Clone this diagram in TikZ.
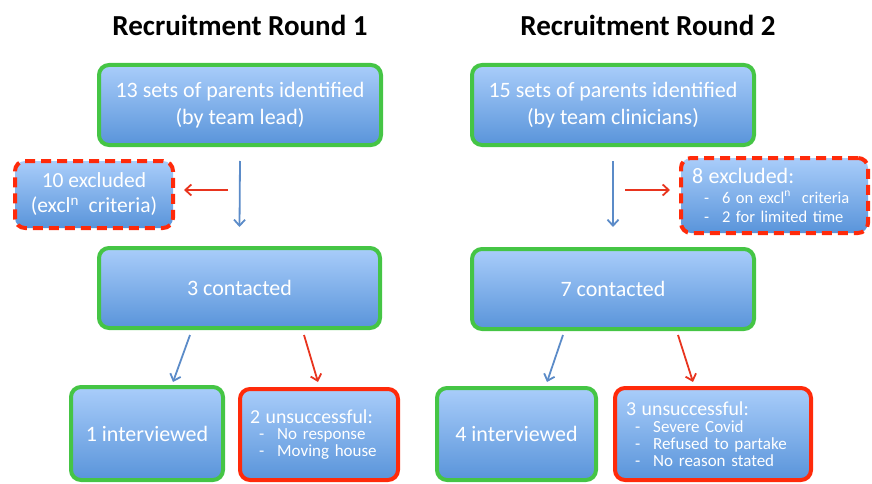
\documentclass[tikz,border=0pt]{standalone}
\usepackage{fontspec}
\setmainfont{Carlito}
\usetikzlibrary{arrows.meta}
\definecolor{gbord}{HTML}{45C545}
\definecolor{rbord}{HTML}{FF2A0A}
\definecolor{ctop}{HTML}{A9CDFA}
\definecolor{cbot}{HTML}{5994DA}
\definecolor{barrowc}{HTML}{5B8BC8}
\definecolor{rarrowc}{HTML}{E8341E}
\tikzset{
  box/.style={rounded corners=10pt, top color=ctop, bottom color=cbot, text=white,
    line width=4pt, align=center, inner sep=0pt},
  okbox/.style={box, draw=gbord},
  badbox/.style={box, draw=rbord},
  exbox/.style={box, draw=rbord, dash pattern=on 10pt off 6pt},
  mainfont/.style={font=\fontsize{22}{27}\selectfont},
  titlefont/.style={font=\bfseries\fontsize{29}{32}\selectfont},
  barrow/.style={draw=barrowc, line width=1.8pt, -{Straight Barb[length=6pt,width=11pt,line width=1.8pt]}},
  rarrow/.style={draw=rarrowc, line width=1.8pt, -{Straight Barb[length=6pt,width=11pt,line width=1.8pt]}},
}
\newcommand{\itm}[1]{\hspace*{9pt}-\hspace*{13pt}#1}
\begin{document}
\begin{tikzpicture}[x=1pt,y=-1pt]
\useasboundingbox (0,0) rectangle (872,484);
% titles
\node[titlefont] (T1) at (240,25) {Recruitment Round 1};
\node[titlefont] (T2) at (648,25) {Recruitment Round 2};
% Round 1
\node[okbox, mainfont, minimum width=282, minimum height=80] (A1) at (240,105)
  {13 sets of parents identified\\(by team lead)};
\node[exbox, font=\fontsize{21.5}{25}\selectfont, minimum width=158, minimum height=67] (X1) at (94,194.5)
  {10 excluded\\(excl\textsuperscript{n}\ \ criteria)};
\node[okbox, mainfont, minimum width=281, minimum height=80] (C1) at (239.5,288) {3 contacted};
\node[okbox, mainfont, minimum width=152, minimum height=93] (I1) at (147,433.5) {1 interviewed};
\node[badbox, font=\fontsize{17}{16.5}\selectfont, minimum width=158, minimum height=91,
  text width=138, align=left] (U1) at (319,434.5)
  {{\fontsize{19.8}{17}\selectfont 2 unsuccessful:}\\\itm{No response}\\\itm{Moving house}};
% Round 2
\node[okbox, mainfont, minimum width=282, minimum height=80] (A2) at (613,105)
  {15 sets of parents identified\\(by team clinicians)};
\node[exbox, font=\fontsize{16.5}{19.5}\selectfont, minimum width=187, minimum height=75,
  text width=165, align=left] (X2) at (774.5,195.5)
  {{\fontsize{22}{19}\selectfont 8 excluded:}\\\hspace*{3pt}\itm{6 on excl\textsuperscript{n}\ \ criteria}\\\hspace*{3pt}\itm{2 for limited time}};
\node[okbox, mainfont, minimum width=282, minimum height=80] (C2) at (613,289) {7 contacted};
\node[okbox, mainfont, minimum width=159, minimum height=92] (I2) at (516.5,434) {4 interviewed};
\node[badbox, font=\fontsize{17}{17}\selectfont, minimum width=196, minimum height=92,
  text width=174, align=left] (U2) at (713,434)
  {{\fontsize{19.8}{17}\selectfont 3 unsuccessful:}\\\itm{Severe Covid}\\\itm{Refused to partake}\\\itm{No reason stated}};
% arrows round 1
\draw[barrow] ([yshift=-14pt]A1.south) -- ([yshift=19pt]C1.north);
\coordinate (M1) at ([yshift=-43pt]A1.south);
\draw[rarrow] ([xshift=-12pt]M1) -- ([xshift=9pt,yshift=4.5pt]X1.east);
\draw[barrow] ([xshift=-49.5pt,yshift=-5pt]C1.south) -- ([xshift=26pt,yshift=3pt]I1.north);
\draw[rarrow] ([xshift=64.5pt,yshift=-5pt]C1.south) -- ([xshift=-1pt,yshift=5pt]U1.north);
% arrows round 2
\draw[barrow] ([yshift=-14pt]A2.south) -- ([yshift=20pt]C2.north);
\coordinate (M2) at ([yshift=-43pt]A2.south);
\draw[rarrow] ([xshift=12pt]M2) -- ([xshift=-9pt,yshift=5.5pt]X2.west);
\draw[barrow] ([xshift=-50pt,yshift=-4pt]C2.south) -- ([xshift=30.5pt,yshift=4pt]I2.north);
\draw[rarrow] ([xshift=65pt,yshift=-4pt]C2.south) -- ([xshift=-20pt,yshift=4pt]U2.north);
\end{tikzpicture}
\end{document}
